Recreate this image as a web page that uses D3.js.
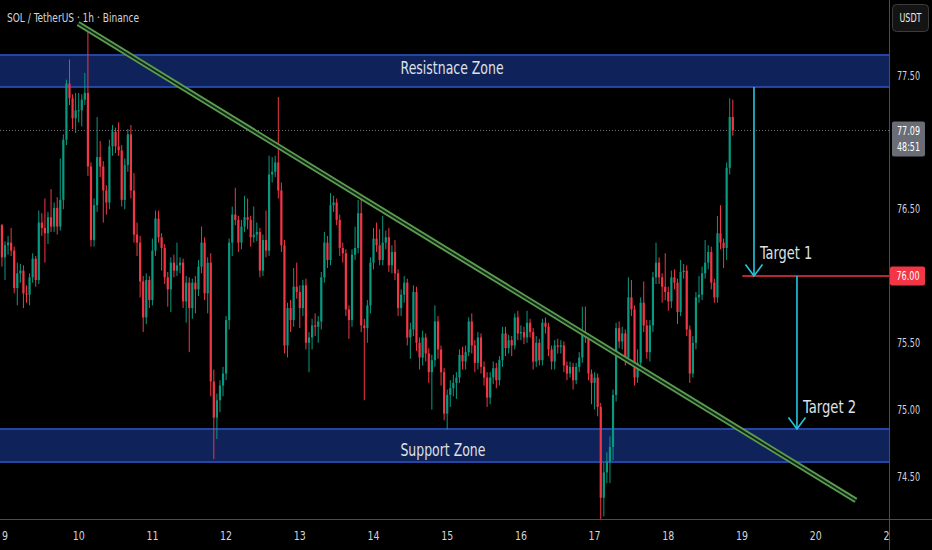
<!DOCTYPE html>
<html><head><meta charset="utf-8">
<script src="https://cdn.jsdelivr.net/npm/d3@7"></script>
<style>
html,body{margin:0;padding:0;background:#000;}
svg{display:block;}
text{font-family:"Liberation Sans Narrow","DejaVu Sans Condensed","Open Sans",sans-serif;}
</style></head><body>
<svg id="chart" width="932" height="550"></svg>
<script>
// ---- data (SOL/USDT 1h, hours counted from day 9 00:00) ----
const firstHour = -1;
const firstOpen = 76.38;
const closes = [76.14,76.23,76.25,76.19,75.91,76.02,76.04,75.87,75.86,75.99,
 76.13,75.97,76.40,76.36,76.32,76.44,76.37,76.51,76.37,76.57,
 77.02,77.44,77.33,77.18,77.24,77.24,77.32,77.37,76.82,76.27,
 76.53,76.89,76.82,76.64,76.55,76.97,77.08,76.97,76.94,76.57,
 76.83,77.06,76.64,76.31,76.25,75.96,75.69,75.97,75.82,76.19,
 76.43,76.29,76.21,75.99,75.90,76.10,76.04,76.08,76.10,75.81,
 75.95,75.76,75.95,75.90,76.07,76.25,75.87,76.10,75.21,74.94,
 75.07,75.18,75.27,75.67,76.25,76.46,76.42,76.25,76.37,76.44,
 76.42,76.29,76.31,76.33,76.04,76.27,76.19,76.76,76.78,76.85,
 76.64,76.23,75.48,75.76,75.67,75.92,75.88,75.76,75.93,75.50,
 75.54,75.63,75.62,75.66,75.99,76.25,76.12,76.53,76.55,76.42,
 76.21,76.17,75.75,75.67,76.16,76.21,76.47,75.63,75.61,75.78,
 76.10,76.28,76.23,76.12,76.25,76.29,76.08,76.18,76.02,75.76,
 75.86,75.95,75.54,75.60,75.88,75.50,75.39,75.54,75.42,75.28,
 75.37,75.66,75.45,75.28,74.97,75.11,75.16,75.20,75.24,75.41,
 75.36,75.43,75.66,75.48,75.35,75.54,75.32,75.24,75.09,75.24,
 75.31,75.22,75.37,75.57,75.46,75.52,75.48,75.69,75.57,75.58,
 75.54,75.65,75.58,75.36,75.50,75.37,75.65,75.62,75.45,75.36,
 75.48,75.47,75.48,75.33,75.27,75.32,75.22,75.32,75.39,75.58,
 75.54,75.27,75.20,75.24,75.02,74.34,74.53,74.61,74.72,75.11,
 75.61,75.51,75.57,75.39,75.84,75.75,75.24,75.35,75.80,75.63,
 75.43,75.63,75.99,76.10,75.99,75.92,75.88,75.81,75.99,75.95,
 75.73,76.03,76.04,75.60,75.27,75.50,75.84,75.86,76.02,76.10,
 76.18,75.95,75.84,76.32,76.25,76.21,76.81,77.19,77.09];
const highs = [76.39,76.26,76.30,76.36,76.22,76.10,76.09,76.08,75.93,76.02,
 76.17,76.15,76.49,76.47,76.58,76.48,76.65,76.55,76.59,76.88,
 77.06,77.47,77.62,77.36,77.37,77.37,77.36,77.52,77.84,76.85,
 76.58,77.19,77.01,76.86,76.68,77.02,77.13,77.11,77.15,76.98,
 76.88,77.10,77.13,76.77,76.40,76.30,76.00,76.02,76.00,76.28,
 76.49,76.49,76.32,76.24,76.03,76.14,76.16,76.25,76.14,76.13,
 76.00,75.99,75.98,76.00,76.12,76.37,76.29,76.14,76.17,75.30,
 75.12,75.22,75.32,75.70,76.28,76.52,76.66,76.45,76.42,76.60,
 76.58,76.45,76.52,76.40,76.36,76.31,76.49,76.90,76.89,76.90,
 77.34,76.70,76.27,75.80,75.82,76.06,76.10,75.93,75.97,75.98,
 75.58,75.68,75.72,75.70,76.03,76.33,76.30,76.62,76.60,76.58,
 76.46,76.25,76.20,75.78,76.20,76.37,76.57,76.59,75.68,75.82,
 76.14,76.36,76.40,76.35,76.45,76.34,76.36,76.23,76.27,76.05,
 75.90,76.00,75.98,75.65,75.93,75.92,75.54,75.59,75.57,75.46,
 75.41,75.78,75.70,75.48,75.31,75.15,75.22,75.26,75.28,75.45,
 75.47,75.48,75.69,75.72,75.52,75.58,75.57,75.36,75.28,75.28,
 75.36,75.35,75.40,75.62,75.62,75.56,75.55,75.72,75.74,75.63,
 75.62,75.74,75.68,75.61,75.55,75.53,75.68,75.69,75.65,75.48,
 75.52,75.53,75.52,75.51,75.36,75.36,75.35,75.35,75.43,75.77,
 75.77,75.57,75.30,75.28,75.27,75.05,74.60,74.68,74.80,75.15,
 75.65,75.66,75.62,75.60,75.99,75.97,75.78,75.45,75.84,75.96,
 75.67,75.67,76.03,76.25,76.14,76.02,76.17,75.92,76.04,76.05,
 75.98,76.12,76.09,76.08,75.63,75.55,75.88,76.00,76.07,76.27,
 76.23,76.22,75.98,76.45,76.53,76.28,76.85,77.33,77.32];
const lows = [76.07,75.97,76.16,76.15,75.87,75.78,75.95,75.76,75.80,75.78,
 75.95,75.92,75.94,76.30,76.10,76.24,76.33,76.33,76.31,76.34,
 76.50,76.98,77.28,77.10,77.07,77.15,77.12,77.28,76.75,76.22,
 76.22,76.48,76.74,76.40,76.46,76.50,76.90,76.92,76.90,76.52,
 76.50,76.78,76.58,76.25,76.15,75.84,75.58,75.64,75.76,75.78,
 76.15,76.25,76.04,75.94,75.77,75.73,75.99,76.00,76.02,75.76,
 75.65,75.43,75.68,75.72,75.85,76.02,75.82,75.72,75.10,74.63,
 74.78,74.98,75.10,75.22,75.60,76.15,76.38,76.18,76.20,76.33,
 76.35,76.22,76.25,76.26,75.99,76.00,76.14,76.15,76.70,76.74,
 76.58,76.18,75.42,75.39,75.58,75.62,75.83,75.61,75.70,75.45,
 75.28,75.45,75.55,75.50,75.60,75.95,76.06,76.08,76.48,76.38,
 76.15,76.10,75.70,75.53,75.62,76.12,76.17,75.58,75.07,75.50,
 75.72,76.05,76.18,76.08,76.08,76.20,76.03,76.02,75.97,75.70,
 75.70,75.80,75.48,75.38,75.55,75.44,75.30,75.33,75.36,75.20,
 75.00,75.32,75.38,75.18,74.92,74.85,75.02,75.10,75.08,75.20,
 75.30,75.30,75.40,75.42,75.28,75.30,75.27,75.18,75.02,75.04,
 75.19,75.16,75.18,75.32,75.40,75.42,75.40,75.45,75.52,75.52,
 75.49,75.50,75.54,75.30,75.32,75.33,75.33,75.57,75.40,75.30,
 75.30,75.42,75.42,75.28,75.22,75.24,75.15,75.19,75.28,75.35,
 75.50,75.22,75.04,75.00,74.95,74.17,74.20,74.45,74.45,74.62,
 75.06,75.46,75.45,75.33,75.35,75.70,75.18,75.20,75.30,75.58,
 75.38,75.36,75.58,75.94,75.94,75.80,75.82,75.74,75.76,75.90,
 75.64,75.70,75.98,75.55,75.20,75.24,75.45,75.80,75.82,75.98,
 76.05,75.90,75.80,75.80,76.20,76.06,76.12,76.76,77.05];

const dayLabels = [9,10,11,12,13,14,15,16,17,18,19,20,21];
const priceTicks = [77.5,77.0,76.5,76.0,75.5,75.0,74.5];
const titleText = "SOL / TetherUS · 1h · Binance";
const currencyLabel = "USDT";
const lastPrice = 77.09;
const countdown = "48:51";
const targetPrice = 76.00;
const resistanceZone = [77.415, 77.654];
const supportZone = [74.608, 74.855];
const trendLine = [[23.8, 77.89], [277.1, 74.32]];
const arrowsDown = [
  {hour: 243.9, from: 77.415, to: 76.00},
  {hour: 257.9, from: 76.00, to: 74.855}
];
const targetLineStartHour = 240.1;
const labels = [
  {text: "Resistnace Zone", hour: 145.6, price: 77.56, anchor: "middle", len: 103},
  {text: "Support Zone", hour: 142.6, price: 74.70, anchor: "middle", len: 85},
  {text: "Target 1", hour: 245.9, price: 76.17, anchor: "start", len: 52},
  {text: "Target 2", hour: 259.9, price: 75.02, anchor: "start", len: 53}
];

// ---- layout ----
const W = 932, H = 550, plotRight = 889, plotBottom = 519;
const svg = d3.select("#chart");
const x = d3.scaleLinear().domain([0, 264]).range([5, 815.7]);
const y = d3.scaleLinear().domain([74.5, 77.5]).range([476.4, 75.6]);
const upC = "#089981", dnC = "#f23645", txtC = "#d1d4dc";

svg.append("rect").attr("width", W).attr("height", H).attr("fill", "#000");
const defs = svg.append("defs");
defs.append("clipPath").attr("id", "plot")
  .append("rect").attr("x", 0).attr("y", 0).attr("width", plotRight).attr("height", plotBottom);
defs.append("clipPath").attr("id", "timeclip")
  .append("rect").attr("x", 0).attr("y", plotBottom).attr("width", plotRight).attr("height", H - plotBottom);
const g = svg.append("g").attr("clip-path", "url(#plot)");

// zones
[resistanceZone, supportZone].forEach(z => {
  g.append("rect").attr("x", -2).attr("width", plotRight + 4)
    .attr("y", y(z[1])).attr("height", y(z[0]) - y(z[1]))
    .attr("fill", "#0f2259").attr("stroke", "#2546a6").attr("stroke-width", 2);
});

// last price dotted line
g.append("line").attr("x1", 0).attr("x2", plotRight)
  .attr("y1", Math.round(y(lastPrice)) + 0.5).attr("y2", Math.round(y(lastPrice)) + 0.5)
  .attr("stroke", "#6b6e78").attr("stroke-width", 1).attr("stroke-dasharray", "1,2");

// candles
const candles = closes.map((c, i) => ({
  h: firstHour + i,
  o: i === 0 ? firstOpen : closes[i - 1],
  c: c, hi: highs[i], lo: lows[i]
}));
const cg = g.append("g");
cg.selectAll("line.wick").data(candles).join("line").attr("class", "wick")
  .attr("x1", d => x(d.h)).attr("x2", d => x(d.h))
  .attr("y1", d => y(d.hi)).attr("y2", d => y(d.lo))
  .attr("stroke", d => d.c >= d.o ? upC : dnC).attr("stroke-width", 1);
cg.selectAll("rect.body").data(candles).join("rect").attr("class", "body")
  .attr("x", d => x(d.h) - 1.1).attr("width", 2.2)
  .attr("y", d => y(Math.max(d.o, d.c)))
  .attr("height", d => Math.max(1, Math.abs(y(d.o) - y(d.c))))
  .attr("fill", d => d.c >= d.o ? upC : dnC);

// trend line
const tl = g.append("g");
tl.append("line").attr("x1", x(trendLine[0][0])).attr("y1", y(trendLine[0][1]))
  .attr("x2", x(trendLine[1][0])).attr("y2", y(trendLine[1][1]))
  .attr("stroke", "#5c9c4e").attr("stroke-width", 5.5);
tl.append("line").attr("x1", x(trendLine[0][0])).attr("y1", y(trendLine[0][1]))
  .attr("x2", x(trendLine[1][0])).attr("y2", y(trendLine[1][1]))
  .attr("stroke", "#10261a").attr("stroke-width", 1.8);

// target line
g.append("line").attr("x1", x(targetLineStartHour)).attr("x2", plotRight)
  .attr("y1", y(targetPrice)).attr("y2", y(targetPrice))
  .attr("stroke", dnC).attr("stroke-width", 1.6);

// arrows
const cyan = "#26c6e0";
arrowsDown.forEach(a => {
  const ax = x(a.hour), y0 = y(a.from), y1 = y(a.to);
  g.append("line").attr("x1", ax).attr("x2", ax).attr("y1", y0).attr("y2", y1)
    .attr("stroke", cyan).attr("stroke-width", 1.6);
  g.append("path").attr("d", `M${ax - 8.5},${y1 - 11.5}L${ax},${y1}L${ax + 8.5},${y1 - 11.5}`)
    .attr("fill", "none").attr("stroke", cyan).attr("stroke-width", 1.6);
});

// labels
labels.forEach(l => {
  g.append("text").attr("x", x(l.hour)).attr("y", y(l.price))
    .attr("dy", "0.35em").attr("text-anchor", l.anchor)
    .attr("fill", "#dfe1e6").attr("font-size", 17)
    .attr("textLength", l.len).attr("lengthAdjust", "spacingAndGlyphs").text(l.text);
});

// title
svg.append("text").attr("x", 7).attr("y", 22).attr("fill", txtC)
  .attr("font-size", 13).attr("textLength", 132).attr("lengthAdjust", "spacingAndGlyphs")
  .text(titleText);

// axes lines
svg.append("line").attr("x1", 0).attr("x2", W).attr("y1", plotBottom + 0.5).attr("y2", plotBottom + 0.5)
  .attr("stroke", "#4a4d55");
svg.append("line").attr("x1", plotRight + 0.5).attr("x2", plotRight + 0.5).attr("y1", 0).attr("y2", H)
  .attr("stroke", "#4a4d55");

// time axis
svg.append("g").attr("clip-path", "url(#timeclip)")
  .selectAll("text").data(dayLabels).join("text")
  .attr("x", d => x((d - 9) * 24)).attr("y", 540)
  .attr("text-anchor", "middle").attr("fill", txtC).attr("font-size", 12)
  .attr("textLength", d => d < 10 ? 6 : 12).attr("lengthAdjust", "spacingAndGlyphs")
  .text(d => d);

// price axis (labels hidden where the price tags sit, as in the terminal)
const tagPrices = [lastPrice, targetPrice];
svg.append("g").selectAll("text")
  .data(priceTicks.filter(p => tagPrices.every(t => Math.abs(y(p) - y(t)) > 16)))
  .join("text")
  .attr("x", 897).attr("y", d => y(d)).attr("dy", "0.35em")
  .attr("fill", txtC).attr("font-size", 12)
  .attr("textLength", 23).attr("lengthAdjust", "spacingAndGlyphs").text(d => d.toFixed(2));

// last price label
const lp = svg.append("g");
lp.append("rect").attr("x", 892).attr("y", y(lastPrice) - 9).attr("width", 33).attr("height", 35)
  .attr("rx", 2).attr("fill", "#6a6d75");
lp.append("text").attr("x", 908.5).attr("y", y(lastPrice)).attr("dy", "0.35em")
  .attr("text-anchor", "middle").attr("fill", "#fff").attr("font-size", 12)
  .attr("textLength", 23).attr("lengthAdjust", "spacingAndGlyphs").text(lastPrice.toFixed(2));
lp.append("text").attr("x", 908.5).attr("y", y(lastPrice) + 16).attr("dy", "0.35em")
  .attr("text-anchor", "middle").attr("fill", "#fff").attr("font-size", 12)
  .attr("textLength", 23).attr("lengthAdjust", "spacingAndGlyphs").text(countdown);

// target price label
svg.append("rect").attr("x", 890).attr("y", y(targetPrice) - 9.5).attr("width", 35).attr("height", 19)
  .attr("rx", 2).attr("fill", dnC);
svg.append("text").attr("x", 908).attr("y", y(targetPrice)).attr("dy", "0.35em")
  .attr("text-anchor", "middle").attr("fill", "#fff").attr("font-size", 12)
  .attr("textLength", 23).attr("lengthAdjust", "spacingAndGlyphs").text(targetPrice.toFixed(2));

// currency box
svg.append("rect").attr("x", 892.5).attr("y", 4.5).attr("width", 36).attr("height", 27)
  .attr("rx", 4).attr("fill", "#141414").attr("stroke", "#3c3c3c");
svg.append("text").attr("x", 910.5).attr("y", 18).attr("dy", "0.35em")
  .attr("text-anchor", "middle").attr("fill", "#e8e8e8").attr("font-size", 12)
  .attr("textLength", 22).attr("lengthAdjust", "spacingAndGlyphs").text(currencyLabel);
</script>
</body></html>
